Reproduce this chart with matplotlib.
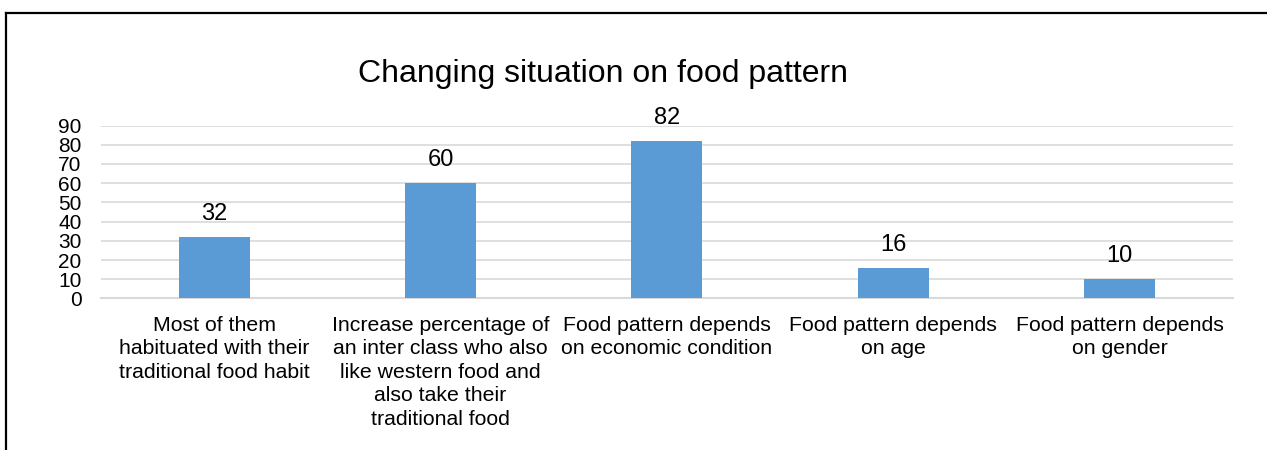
import matplotlib.pyplot as plt
from matplotlib.lines import Line2D

plt.rcParams['font.family'] = ['Liberation Sans', 'DejaVu Sans']

# Données
categories = [
    'Most of them\nhabituated with their\ntraditional food habit',
    'Increase percentage of\nan inter class who also\nlike western food and\nalso take their\ntraditional food',
    'Food pattern depends\non economic condition',
    'Food pattern depends\non age',
    'Food pattern depends\non gender',
]
values = [32, 60, 82, 16, 10]
yticks = [0, 10, 20, 30, 40, 50, 60, 70, 80, 90]

fig = plt.figure(figsize=(12.67, 4.5), dpi=100)
ax = fig.add_axes([0.0797, 0.3367, 0.8934, 0.3844])

x = range(len(values))
bars = ax.bar(x, values, width=0.314, color='#5B9BD5', zorder=3)

ax.set_xlim(-0.5, len(values) - 0.5)
ax.set_ylim(0, 90)
ax.set_yticks(yticks)
ax.grid(axis='y', color='#D9D9D9', linewidth=1.2, zorder=0)

for s in ['top', 'right', 'left']:
    ax.spines[s].set_visible(False)
ax.spines['bottom'].set_color('#D9D9D9')
ax.spines['bottom'].set_linewidth(1.5)

ax.set_xticks(list(x))
ax.set_xticklabels(categories, fontsize=15.3, linespacing=1.3)
ax.tick_params(axis='x', length=0, pad=12.5)
ax.tick_params(axis='y', length=0, pad=14, labelsize=15)

# Étiquettes de valeur
for b, v in zip(bars, values):
    ax.annotate(str(v), (b.get_x() + b.get_width() / 2, v),
                xytext=(0, 8.5), textcoords='offset points',
                ha='center', va='bottom', fontsize=17)

fig.text(602.5 / 1267, 1 - 82 / 450, 'Changing situation on food pattern',
         ha='center', va='baseline', fontsize=23)

# Cadre
fig.add_artist(Line2D([6 / 1267, 6 / 1267], [0, 1 - 13 / 450],
                      transform=fig.transFigure, color='black', linewidth=1.6))
fig.add_artist(Line2D([6 / 1267, 1], [1 - 13 / 450, 1 - 13 / 450],
                      transform=fig.transFigure, color='black', linewidth=1.6))

fig.savefig('out.png', dpi=100)
